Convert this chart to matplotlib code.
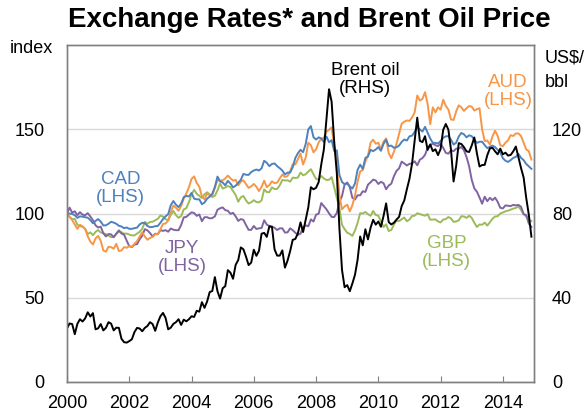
import matplotlib
matplotlib.use("Agg")
import matplotlib.pyplot as plt
import numpy as np

plt.rcParams["font.family"] = ["Liberation Sans", "DejaVu Sans"]

# monthly observations, Jan 2000 - Dec 2014 (index, 2000 start = 100)
aud = [
    100, 98.1, 96.1, 93.4, 90.9, 93.3, 92.3, 90.9, 86.4, 83.3, 81.6, 85.2,
    86.7, 83.8, 78.1, 77.3, 80.3, 80.0, 79.1, 82.0, 77.7, 78.1, 80.0, 79.7,
    80.6, 80.3, 82.0, 83.6, 86.4, 88.8, 86.3, 84.4, 85.5, 86.1, 87.7, 87.8,
    90.6, 93.8, 94.1, 95.8, 100.9, 104.7, 103.4, 101.6, 104.5, 108.9, 111.9, 115.6,
    120.5, 122.0, 118.1, 115.9, 110.2, 108.4, 111.9, 110.8, 110.8, 115.2, 119.8, 119.4,
    119.7, 120.8, 122.5, 120.9, 119.5, 120.0, 116.7, 118.9, 119.7, 117.5, 115.2, 116.1,
    117.5, 115.9, 113.3, 115.8, 119.5, 115.6, 116.9, 119.1, 118.0, 118.3, 120.8, 123.1,
    121.7, 122.2, 125.0, 129.2, 129.1, 132.2, 135.6, 129.1, 133.1, 142.0, 140.5, 136.3,
    138.1, 142.2, 144.5, 144.8, 148.6, 149.7, 151.1, 140.0, 129.7, 110.5, 102.5, 104.2,
    105.2, 101.3, 105.0, 110.6, 118.8, 125.0, 125.8, 130.8, 134.4, 142.0, 143.8, 141.4,
    142.0, 138.1, 142.7, 144.5, 135.8, 132.8, 136.6, 141.3, 147.2, 153.3, 154.5, 155.2,
    155.0, 157.0, 160.0, 170.0, 167.0, 168.0, 172.0, 165.0, 153.0, 163.0, 160.0, 163.0,
    161.6, 167.5, 163.9, 161.7, 155.8, 155.5, 160.6, 164.2, 163.0, 160.9, 162.5, 163.8,
    163.4, 161.1, 161.9, 162.5, 150.0, 143.0, 143.3, 140.9, 145.8, 149.1, 146.1, 140.5,
    140.0, 142.0, 143.5, 146.5, 146.0, 147.5, 147.5, 146.0, 142.0, 138.0, 137.0, 132.0,
]

cad = [
    100, 100.0, 99.7, 99.0, 97.4, 98.3, 98.1, 97.8, 97.5, 96.1, 94.2, 95.6,
    96.7, 95.2, 92.9, 93.0, 93.9, 95.1, 94.6, 93.9, 92.7, 92.3, 91.3, 91.7,
    90.9, 90.9, 91.3, 91.6, 93.5, 94.5, 94.3, 92.6, 91.9, 92.0, 92.5, 92.6,
    94.5, 96.7, 98.3, 99.6, 104.9, 107.4, 105.2, 103.8, 105.9, 109.7, 110.4, 110.1,
    112.2, 108.8, 108.4, 108.4, 105.5, 106.5, 108.8, 110.0, 111.7, 115.8, 121.9, 119.1,
    118.4, 116.7, 119.4, 117.8, 115.5, 116.5, 118.2, 120.0, 123.5, 123.0, 122.9, 124.6,
    125.5, 126.1, 125.5, 126.8, 131.3, 130.1, 128.1, 129.4, 129.7, 128.1, 126.9, 125.5,
    123.2, 124.3, 124.3, 127.5, 132.9, 135.8, 137.8, 136.4, 141.2, 149.9, 151.9, 145.3,
    143.9, 145.2, 144.5, 142.5, 145.7, 142.3, 143.5, 137.1, 137.5, 122.9, 118.7, 117.4,
    117.8, 116.1, 114.8, 117.8, 125.9, 129.0, 126.4, 133.0, 133.8, 137.8, 137.0, 138.0,
    139.4, 137.2, 141.3, 143.8, 140.0, 140.3, 139.0, 139.3, 140.3, 142.5, 143.9, 143.3,
    145.8, 146.2, 148.4, 151.3, 149.9, 148.6, 151.4, 148.0, 144.5, 141.9, 141.9, 141.6,
    143.0, 144.9, 145.8, 145.9, 143.8, 140.9, 142.0, 145.7, 147.8, 147.0, 145.2, 146.4,
    145.9, 143.8, 141.9, 142.6, 142.6, 140.6, 138.8, 139.6, 140.3, 139.4, 137.8, 136.4,
    132.8, 131.3, 130.6, 131.7, 133.0, 133.6, 135.4, 133.0, 131.7, 129.4, 128.0, 126.5,
]

gbp = [
    100, 97.9, 96.6, 96.8, 93.3, 92.4, 92.2, 90.8, 87.8, 88.8, 87.1, 89.1,
    90.2, 88.7, 88.3, 87.7, 86.9, 85.9, 86.3, 87.8, 89.2, 88.9, 88.0, 88.1,
    87.5, 87.0, 87.0, 88.1, 89.1, 90.9, 95.0, 93.9, 95.0, 95.1, 96.0, 96.8,
    98.8, 98.2, 96.6, 96.0, 99.1, 101.5, 99.0, 97.4, 98.5, 102.4, 103.2, 106.8,
    111.4, 114.0, 111.7, 110.5, 109.2, 111.4, 112.6, 111.3, 109.8, 110.5, 113.7, 117.8,
    114.8, 115.4, 116.3, 115.7, 113.3, 111.0, 107.0, 109.6, 110.4, 107.8, 105.9, 106.7,
    107.9, 106.8, 106.6, 107.8, 114.3, 112.7, 112.7, 115.5, 114.5, 114.6, 116.7, 119.9,
    119.6, 119.7, 118.9, 121.3, 121.1, 121.3, 124.3, 122.7, 123.3, 124.9, 126.3, 123.3,
    120.5, 120.2, 122.3, 120.8, 119.9, 120.0, 121.6, 115.5, 109.4, 103.1, 93.3, 90.7,
    88.6, 87.9, 86.7, 89.9, 94.4, 100.2, 100.0, 100.9, 99.6, 98.6, 101.5, 99.1,
    98.7, 95.4, 92.0, 93.6, 89.6, 90.2, 93.4, 95.7, 95.5, 96.6, 97.6, 95.4,
    96.4, 98.5, 98.7, 100.1, 99.7, 99.1, 98.7, 99.6, 96.3, 96.4, 96.5, 95.3,
    94.7, 96.4, 96.7, 97.9, 97.1, 95.0, 95.3, 96.0, 98.4, 98.2, 97.4, 98.7,
    97.4, 94.5, 92.0, 93.5, 93.3, 94.6, 92.8, 94.8, 96.9, 98.2, 98.4, 100.0,
    100.6, 101.3, 101.7, 102.3, 102.9, 103.3, 104.2, 102.1, 99.6, 98.2, 96.4, 95.5,
]

jpy = [
    100, 103.5, 100.5, 101.3, 99.0, 100.8, 99.3, 99.0, 100.2, 98.2, 96.0, 93.0,
    91.7, 92.2, 88.3, 86.4, 87.8, 87.6, 85.9, 88.1, 90.0, 88.1, 87.4, 83.9,
    80.6, 80.1, 81.6, 81.8, 84.7, 86.8, 90.7, 90.0, 88.4, 86.4, 88.0, 87.7,
    90.1, 89.7, 90.1, 89.2, 91.1, 90.4, 90.1, 90.1, 93.2, 97.7, 98.0, 99.4,
    100.7, 100.3, 98.6, 99.4, 95.4, 97.8, 97.8, 97.1, 97.3, 98.3, 102.2, 103.1,
    103.6, 102.0, 101.6, 99.8, 100.4, 98.3, 95.6, 96.7, 96.2, 93.1, 90.3, 90.3,
    92.6, 90.8, 91.2, 91.4, 96.0, 93.4, 92.6, 92.3, 91.5, 90.2, 91.2, 91.2,
    88.7, 88.8, 91.2, 90.1, 88.6, 87.3, 88.0, 91.7, 93.0, 92.4, 96.5, 95.2,
    99.3, 99.9, 106.2, 104.3, 102.5, 100.1, 98.0, 97.9, 100.4, 106.9, 110.4, 117.2,
    118.4, 115.7, 109.3, 108.3, 110.8, 110.8, 113.2, 112.8, 117.1, 118.5, 120.1, 119.6,
    117.5, 118.8, 118.0, 114.4, 116.6, 117.7, 122.1, 125.3, 126.8, 130.8, 129.7, 128.5,
    129.5, 129.7, 131.0, 128.6, 131.9, 132.9, 134.8, 139.0, 140.5, 141.5, 140.5, 140.0,
    141.5, 139.0, 136.0, 135.5, 137.5, 137.0, 138.5, 138.5, 139.5, 137.5, 133.5, 128.0,
    120.0, 114.9, 112.9, 109.5, 105.8, 110.0, 107.3, 109.3, 107.9, 109.4, 106.9, 103.4,
    103.0, 104.8, 104.6, 104.4, 105.1, 104.8, 105.1, 104.0, 99.6, 99.1, 94.0, 92.0,
]

# US$ per barrel
brent = [
    25.5, 27.8, 27.5, 22.7, 27.6, 29.8, 28.7, 30.2, 33.1, 31.1, 32.7, 25.0,
    25.5, 27.5, 24.5, 25.7, 28.4, 27.7, 24.5, 25.8, 25.7, 20.5, 18.9, 18.7,
    19.4, 20.3, 23.7, 25.7, 25.4, 24.1, 25.7, 26.6, 28.4, 27.5, 24.3, 28.2,
    31.2, 32.8, 30.4, 25.0, 25.8, 27.6, 28.4, 29.8, 27.1, 29.6, 28.8, 29.8,
    31.2, 30.9, 33.8, 33.4, 37.9, 35.2, 38.2, 42.7, 43.2, 49.8, 43.1, 39.6,
    44.5, 45.5, 53.1, 51.9, 49.0, 55.6, 57.9, 63.9, 63.0, 59.5, 55.5, 56.7,
    62.8, 59.9, 62.3, 70.4, 70.8, 68.9, 73.9, 73.6, 63.0, 60.0, 60.0, 62.5,
    54.3, 57.6, 62.1, 67.5, 67.9, 70.6, 75.8, 71.2, 77.1, 82.9, 92.5, 91.5,
    92.2, 94.9, 103.3, 110.4, 124.6, 139.0, 133.0, 113.9, 99.1, 72.8, 53.2, 45.0,
    46.0, 43.1, 46.8, 50.9, 58.0, 69.1, 64.9, 72.5, 67.7, 73.2, 77.0, 74.7,
    76.2, 73.7, 78.8, 84.8, 75.9, 74.8, 75.6, 77.1, 78.4, 83.5, 86.2, 91.5,
    96.5, 103.7, 114.6, 125.5, 114.5, 113.9, 116.7, 110.2, 112.8, 109.6, 110.5, 107.7,
    110.6, 119.7, 122.5, 119.8, 110.3, 95.2, 102.6, 113.4, 113.0, 111.5, 109.5, 109.2,
    112.3, 116.1, 108.5, 102.3, 103.0, 103.1, 107.7, 110.9, 111.2, 109.5, 108.1, 110.8,
    108.1, 108.9, 107.5, 107.8, 109.5, 111.8, 106.8, 101.6, 97.1, 87.4, 79.4, 69.0,
]

year_ticks = [2000, 2002, 2004, 2006, 2008, 2010, 2012, 2014]
left_ticks = [0, 50, 100, 150]
right_ticks = [0, 40, 80, 120]

colors = {
    "AUD": "#f79646",
    "CAD": "#4f81bd",
    "GBP": "#9bbb59",
    "JPY": "#8064a2",
    "Brent": "#000000",
}

dates = 2000 + np.arange(len(brent)) / 12

fig = plt.figure(figsize=(5.87, 4.17), dpi=100)
ax = fig.add_axes([67 / 587, 1 - 382 / 417, 467 / 587, 337 / 417])
ax2 = ax.twinx()

lw = 1.4
ax.plot(dates, gbp, color=colors["GBP"], lw=lw)
ax.plot(dates, jpy, color=colors["JPY"], lw=lw)
ax.plot(dates, aud, color=colors["AUD"], lw=lw)
ax.plot(dates, cad, color=colors["CAD"], lw=lw)
ax2.plot(dates, brent, color=colors["Brent"], lw=lw)

ax.set_xlim(2000, 2015)
ax.set_ylim(0, 200)
ax2.set_ylim(0, 160)

ax.set_yticks(left_ticks)
ax2.set_yticks(right_ticks)
ax.set_xticks(year_ticks)
ax.set_xticklabels([str(y) for y in year_ticks])
ax.tick_params(axis="y", length=0, pad=16, labelsize=13)
ax2.tick_params(axis="y", length=0, pad=13, labelsize=13)
ax.tick_params(axis="x", direction="in", length=4, color="#808080",
               pad=9, labelsize=13)
ax.grid(axis="y", color="#d9d9d9", lw=1)
ax.set_axisbelow(True)
for a in (ax, ax2):
    for s in a.spines.values():
        s.set_color("#808080")
        s.set_linewidth(1)

lab = dict(fontsize=13.5, ha="center", va="center", linespacing=1.05)
ax.text(2001.73, 115, "CAD\n(LHS)", color=colors["CAD"], **lab)
ax.text(2003.7, 74, "JPY\n(LHS)", color=colors["JPY"], **lab)
ax.text(2012.2, 77, "GBP\n(LHS)", color=colors["GBP"], **lab)
ax.text(2014.17, 172.5, "AUD\n(LHS)", color=colors["AUD"], **lab)
ax.text(2009.57, 179.5, "Brent oil\n(RHS)", color="black", **lab)

fig.text(309 / 587, 1 - 27 / 417, "Exchange Rates* and Brent Oil Price",
         ha="center", va="baseline", fontsize=20, fontweight="bold")
fig.text(10 / 587, 1 - 53 / 417, "index", ha="left", va="baseline", fontsize=13)
fig.text(545 / 587, 1 - 63 / 417, "US$/", ha="left", va="baseline", fontsize=13)
fig.text(545 / 587, 1 - 87 / 417, "bbl", ha="left", va="baseline", fontsize=13)

fig.savefig("out.png", dpi=100)
